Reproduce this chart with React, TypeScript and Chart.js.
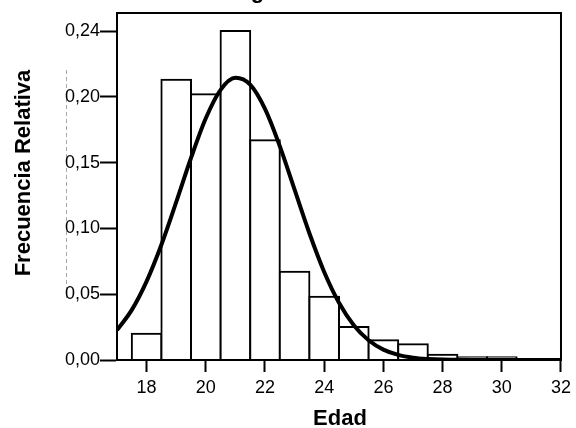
import { useEffect, useRef } from "react";
import { Chart, registerables } from "chart.js";

Chart.register(...registerables);

// Histogram bins (centres of 1-year bins) and relative frequencies
const binCenters = [18, 19, 20, 21, 22, 23, 24, 25, 26, 27, 28, 29, 30, 31];
const relFreq = [0.020, 0.213, 0.202, 0.250, 0.167, 0.067, 0.048, 0.025, 0.015, 0.012, 0.004, 0.002, 0.002, 0.0005];

// Fitted normal curve
const curveX = [17, 17.5, 18, 18.5, 19, 19.5, 20, 20.5, 21, 21.5, 22, 22.5, 23, 23.5, 24, 24.5, 25, 25.5, 26, 26.5, 27, 27.5, 28, 28.5, 29, 29.5, 30, 30.5, 31, 31.5, 32];
const curveY = [0.0227, 0.0381, 0.0598, 0.0876, 0.1200, 0.1535, 0.1837, 0.2053, 0.2144, 0.2092, 0.1908, 0.1625, 0.1294, 0.0963, 0.0669, 0.0435, 0.0264, 0.0150, 0.0079, 0.0039, 0.0018, 0.0008, 0.0003, 0.0001, 0, 0, 0, 0, 0, 0, 0];

const xTicks = [18, 20, 22, 24, 26, 28, 30, 32];
const yTicks = [0, 0.05, 0.10, 0.15, 0.20, 0.25];
const yTickLabels = ["0,00", "0,05", "0,10", "0,15", "0,20", "0,24"];

const xTitle = "Edad";
const yTitle = "Frecuencia Relativa";
const chartTitle = "Histograma";

const FONT = '"Liberation Sans", Arial, Helvetica, sans-serif';
const TICK_FONT = '"Liberation Sans Narrow", "Arial Narrow", "Liberation Sans", Arial, sans-serif';

const decorPlugin = {
  id: "decor",
  beforeDraw(chart: any) {
    const { ctx } = chart;
    ctx.save();
    ctx.fillStyle = "#ffffff";
    ctx.fillRect(0, 0, chart.width, chart.height);
    // faint dashed guide line left of the axis
    ctx.strokeStyle = "#a8a8a8";
    ctx.lineWidth = 1;
    ctx.setLineDash([4, 3]);
    ctx.beginPath();
    ctx.moveTo(66.5, 70);
    ctx.lineTo(66.5, 300);
    ctx.stroke();
    ctx.restore();
  },
  afterDraw(chart: any) {
    const { ctx, chartArea } = chart;
    const { left, top, right, bottom } = chartArea;
    ctx.save();
    ctx.strokeStyle = "#000";
    ctx.lineWidth = 2;
    ctx.setLineDash([]);
    ctx.strokeRect(left, top, right - left, bottom - top);

    ctx.fillStyle = "#000";
    ctx.font = `bold 22px ${FONT}`;
    // cut-off chart title (only the descender shows)
    const wHisto = ctx.measureText("Histo").width;
    const wG = ctx.measureText("g").width;
    ctx.textAlign = "left";
    ctx.textBaseline = "alphabetic";
    ctx.fillText(chartTitle, 257.5 - wHisto - wG / 2, -2);

    // x title
    ctx.textAlign = "center";
    ctx.fillText(xTitle, (left + right) / 2 + 1, 425);

    // y title
    ctx.translate(30, 173);
    ctx.rotate(-Math.PI / 2);
    ctx.textBaseline = "alphabetic";
    ctx.fillText(yTitle, 0, 0);
    ctx.restore();
  },
};

export default function App() {
  const ref = useRef<HTMLCanvasElement>(null);

  useEffect(() => {
    const canvas = ref.current;
    if (!canvas) return;
    const chart = new Chart(canvas, {
      type: "bar",
      data: {
        datasets: [
          {
            type: "line",
            data: curveX.map((x, i) => ({ x, y: curveY[i] })),
            borderColor: "#000",
            borderWidth: 4,
            pointRadius: 0,
            fill: false,
            cubicInterpolationMode: "monotone",
            order: 0,
          } as any,
          {
            type: "bar",
            data: binCenters.map((x, i) => ({ x, y: relFreq[i] })),
            backgroundColor: "#ffffff",
            borderColor: "#000",
            borderWidth: 2,
            inflateAmount: 1,
            barPercentage: 1,
            categoryPercentage: 1,
            order: 1,
          } as any,
        ],
      },
      options: {
        responsive: false,
        animation: false,
        devicePixelRatio: 1,
        layout: { padding: { top: 13, right: 12, left: 0, bottom: 0 } },
        plugins: { legend: { display: false }, tooltip: { enabled: false }, title: { display: false } },
        scales: {
          x: {
            type: "linear",
            min: 17,
            max: 32,
            offset: false,
            afterFit: (s: any) => { s.height = 68; },
            afterBuildTicks: (s: any) => { s.ticks = xTicks.map((v) => ({ value: v })); },
            grid: { display: true, drawOnChartArea: false, drawTicks: true, tickLength: 12, tickColor: "#000", tickWidth: 2, offset: false },
            border: { display: true, color: "#000", width: 2 },
            ticks: { color: "#000", font: { family: TICK_FONT, size: 18 }, padding: 5, maxRotation: 0, autoSkip: false },
          },
          y: {
            type: "linear",
            min: 0,
            max: 0.2637,
            afterFit: (s: any) => { s.width = 117; },
            afterBuildTicks: (s: any) => { s.ticks = yTicks.map((v) => ({ value: v })); },
            grid: { display: true, drawOnChartArea: false, drawTicks: true, tickLength: 17, tickColor: "#000", tickWidth: 2 },
            border: { display: true, color: "#000", width: 2 },
            ticks: {
              color: "#000",
              font: { family: TICK_FONT, size: 18 },
              padding: 0,
              autoSkip: false,
              callback: (_v: any, i: number) => yTickLabels[i],
            },
          },
        },
      },
      plugins: [decorPlugin],
    });
    return () => chart.destroy();
  }, []);

  return (
    <div style={{ position: "absolute", left: 0, top: 0, width: 576, height: 428, background: "#fff" }}>
      <canvas ref={ref} width={576} height={428} style={{ display: "block", width: 576, height: 428 }} />
    </div>
  );
}
